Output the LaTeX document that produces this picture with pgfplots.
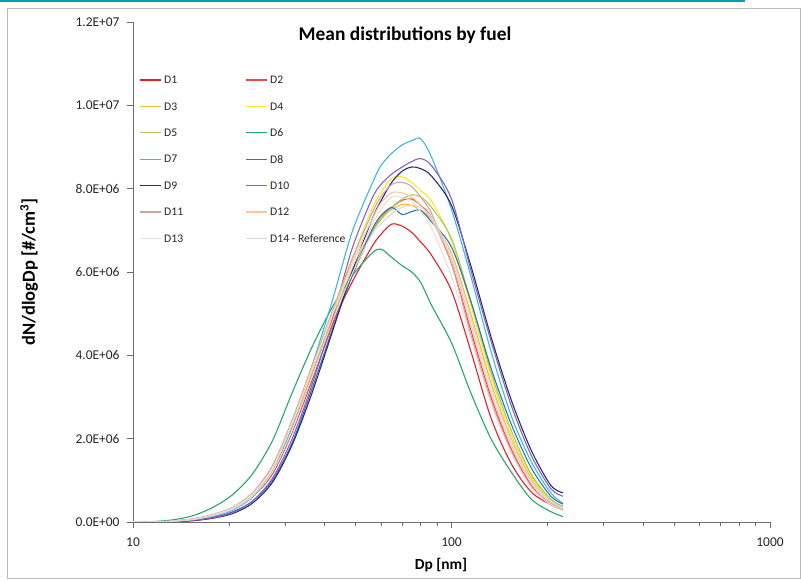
\documentclass[border=0pt]{standalone}
\usepackage{fontspec}
\setmainfont{Carlito}
\usepackage{pgfplots}
\usepackage{pgfplotstable}
\pgfplotsset{compat=1.18}

\definecolor{cDa}{RGB}{222,32,42}
\definecolor{cDb}{RGB}{236,72,68}
\definecolor{cDc}{RGB}{242,186,58}
\definecolor{cDd}{RGB}{248,232,40}
\definecolor{cDe}{RGB}{168,202,92}
\definecolor{cDf}{RGB}{38,168,108}
\definecolor{cDg}{RGB}{58,184,230}
\definecolor{cDh}{RGB}{46,117,182}
\definecolor{cDi}{RGB}{42,42,120}
\definecolor{cDj}{RGB}{140,98,182}
\definecolor{cDk}{RGB}{214,160,160}
\definecolor{cDl}{RGB}{245,200,160}
\definecolor{cDm}{RGB}{240,222,214}
\definecolor{cDn}{RGB}{216,216,222}
\definecolor{frameteal}{RGB}{0,160,182}

% dN/dlogDp in units of 1E6 #/cm3
\pgfplotstableread{
Dp    D1   D2   D3   D4   D5   D6   D7   D8   D9   D10  D11  D12  D13  D14
10    0    0    0    0    0    0    0    0    0    0    0    0    0    0
11.5  0    0    0    0    0    0.01 0    0    0    0    0    0    0    0
13.3  0.02 0.02 0.02 0.02 0.02 0.05 0.01 0.01 0.01 0.01 0.02 0.02 0.02 0.02
15.4  0.07 0.06 0.07 0.06 0.07 0.15 0.05 0.04 0.03 0.04 0.07 0.07 0.06 0.06
17.8  0.17 0.15 0.17 0.16 0.17 0.35 0.13 0.11 0.09 0.10 0.18 0.17 0.16 0.15
20.5  0.33 0.30 0.33 0.32 0.34 0.65 0.28 0.24 0.20 0.22 0.35 0.34 0.32 0.30
23.7  0.65 0.60 0.68 0.65 0.68 1.15 0.60 0.50 0.45 0.50 0.70 0.68 0.66 0.62
27.4  1.25 1.15 1.30 1.25 1.30 1.95 1.20 1.00 0.95 1.05 1.35 1.30 1.28 1.20
31.6  2.30 2.15 2.35 2.30 2.35 3.10 2.30 1.90 1.85 2.00 2.45 2.40 2.35 2.20
36.5  3.55 3.40 3.60 3.60 3.60 4.20 3.75 3.20 3.10 3.30 3.75 3.70 3.65 3.50
42.2  4.75 4.70 4.90 4.95 4.85 5.15 5.30 4.60 4.55 4.85 5.05 5.00 4.95 4.80
48.7  5.75 5.90 6.05 6.30 6.00 5.90 6.95 5.90 6.00 6.55 6.30 6.20 6.10 5.95
56.2  6.60 6.95 7.00 7.50 6.95 6.45 8.10 7.00 7.25 7.75 7.40 7.25 7.10 6.90
60    6.90 7.30 7.30 7.90 7.25 6.55 8.55 7.35 7.70 8.10 7.80 7.65 7.50 7.15
64.9  7.15 7.55 7.50 8.25 7.55 6.35 8.85 7.55 8.15 8.35 8.10 7.90 7.80 7.40
70    7.10 7.72 7.62 8.28 7.75 6.15 9.05 7.38 8.42 8.52 8.15 7.90 7.78 7.55
75    6.95 7.75 7.60 8.15 7.85 6.00 9.15 7.45 8.52 8.65 8.05 7.80 7.70 7.60
80    6.72 7.60 7.48 7.95 7.80 5.75 9.20 7.48 8.48 8.72 7.80 7.60 7.45 7.55
86.6  6.40 7.30 7.25 7.70 7.55 5.20 8.75 7.20 8.30 8.55 7.40 7.25 7.05 7.30
100   5.55 6.20 6.45 6.75 6.80 4.30 7.50 6.60 7.60 7.75 6.20 6.30 5.90 6.40
115   4.10 4.60 5.00 5.20 5.30 3.10 5.90 5.30 6.15 6.05 4.50 4.75 4.40 4.90
133   2.50 3.00 3.35 3.50 3.60 2.00 4.10 3.70 4.45 4.35 2.90 3.10 2.85 3.25
154   1.40 1.75 2.00 2.10 2.20 1.20 2.55 2.35 2.93 2.80 1.70 1.85 1.65 1.95
178   0.72 0.88 1.05 1.10 1.15 0.55 1.45 1.30 1.72 1.60 0.85 0.95 0.82 1.00
205   0.42 0.42 0.50 0.52 0.55 0.25 0.70 0.62 0.88 0.80 0.45 0.48 0.42 0.50
224   0.32 0.30 0.35 0.36 0.38 0.13 0.45 0.43 0.70 0.62 0.33 0.34 0.31 0.35
}\psd

\begin{document}
\begin{tikzpicture}
\begin{axis}[
  name=main,
  scale only axis,
  width=637bp, height=500bp,
  xmode=log,
  xmin=10, xmax=1000,
  ymin=0, ymax=12,
  axis lines*=left,
  axis line style={gray!85!black, line width=0.6pt},
  tick style={gray!85!black, line width=0.6pt},
  tick align=outside,
  major tick length=6bp,
  minor tick length=3.5bp,
  xtick={10,100,1000},
  xticklabels={10,100,1000},
  minor xtick={20,30,40,50,60,70,80,90,200,300,400,500,600,700,800,900},
  ytick={0,2,4,6,8,10,12},
  yticklabels={0.0E+00,2.0E+06,4.0E+06,6.0E+06,8.0E+06,1.0E+07,1.2E+07},
  tick label style={font=\fontsize{13.5}{15}\selectfont, text=black!85},
  xticklabel style={yshift=-6bp},
  yticklabel style={xshift=-4bp},
  xlabel={Dp [nm]},
  ylabel={dN/dlogDp [\#/cm\textsuperscript{3}]},
  xlabel style={at={(axis description cs:0.4835,-0.086)}, anchor=center,
    font=\fontsize{15.5}{18}\selectfont\bfseries},
  ylabel style={at={(axis description cs:-0.163,0.5)}, anchor=center,
    font=\fontsize{18.5}{21}\selectfont\bfseries},
  title={Mean distributions by fuel},
  title style={at={(axis description cs:0.427,0.962)}, anchor=center,
    font=\fontsize{19.5}{22}\selectfont\bfseries},
  no markers,
  every axis plot/.append style={line width=1.1pt, smooth},
]
\addplot[cDa] table[x=Dp,y=D1]{\psd};
\addplot[cDb] table[x=Dp,y=D2]{\psd};
\addplot[cDc] table[x=Dp,y=D3]{\psd};
\addplot[cDd] table[x=Dp,y=D4]{\psd};
\addplot[cDe] table[x=Dp,y=D5]{\psd};
\addplot[cDf] table[x=Dp,y=D6]{\psd};
\addplot[cDg] table[x=Dp,y=D7]{\psd};
\addplot[cDh] table[x=Dp,y=D8]{\psd};
\addplot[cDi] table[x=Dp,y=D9]{\psd};
\addplot[cDj] table[x=Dp,y=D10]{\psd};
\addplot[cDk] table[x=Dp,y=D11]{\psd};
\addplot[cDl] table[x=Dp,y=D12]{\psd};
\addplot[cDm] table[x=Dp,y=D13]{\psd};
\addplot[cDn] table[x=Dp,y=D14]{\psd};
\end{axis}
% legend: two columns, seven rows
\foreach \col/\row/\clr/\lab in {
  0/0/cDa/D1, 1/0/cDb/D2, 0/1/cDc/D3, 1/1/cDd/D4, 0/2/cDe/D5, 1/2/cDf/D6,
  0/3/cDg/D7, 1/3/cDh/D8, 0/4/cDi/D9, 1/4/cDj/D10, 0/5/cDk/D11, 1/5/cDl/D12,
  0/6/cDm/D13, 1/6/cDn/D14 - Reference} {
  \draw[\clr, line width=1.3pt]
    ([shift={(7bp+106bp*\col,442bp-26.4bp*\row)}]main.south west) -- ++(21bp,0);
  \node[anchor=west, inner sep=0pt, text=black!85, font=\fontsize{11.7}{14}\selectfont]
    at ([shift={(31bp+106bp*\col,442bp-26.4bp*\row)}]main.south west) {\lab};
}
% outer chart frame and top rule
\draw[gray!55, line width=0.8pt]
  ([shift={(-126bp,-56bp)}]main.south west) rectangle ([shift={(667bp,514bp)}]main.south west);
\draw[frameteal, line width=2bp]
  ([shift={(-133bp,521bp)}]main.south west) -- ([shift={(612bp,521bp)}]main.south west);
\pgfresetboundingbox
\path[use as bounding box]
  ([shift={(-133bp,-60bp)}]main.south west) rectangle ([shift={(668bp,522bp)}]main.south west);
\end{tikzpicture}
\end{document}
